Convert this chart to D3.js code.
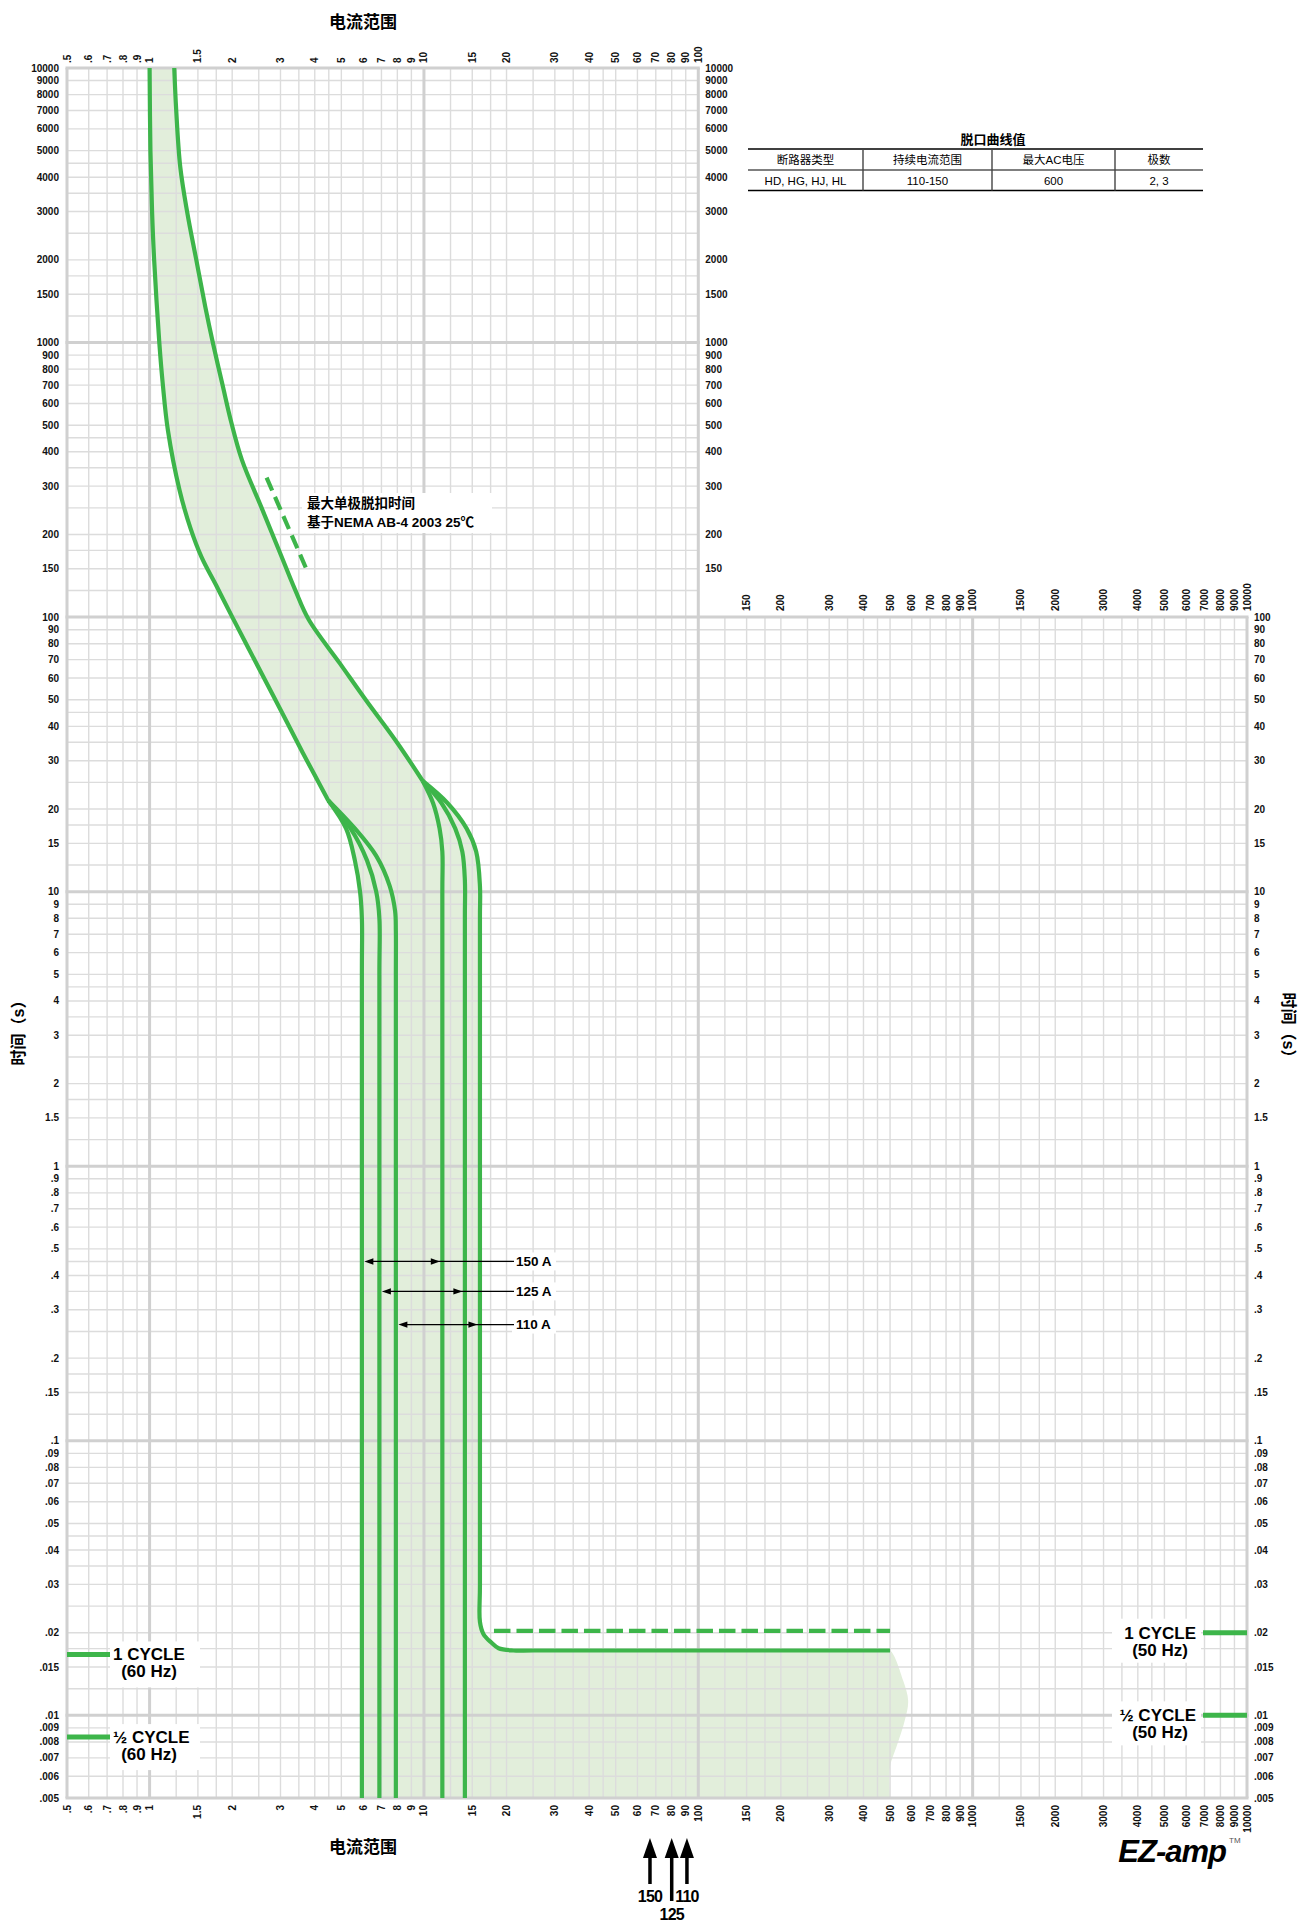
<!DOCTYPE html>
<meta charset="utf-8">
<script src="https://d3js.org/d3.v7.min.js"></script>
<style>
  body { margin: 0; background: #fff; }
  text { font-family: "Liberation Sans", Arial, "Noto Sans CJK SC", sans-serif; }
</style>
<div id="my_dataviz"></div>
<script>

// ---- data ----
// tick label mantissas per decade and grid mantissas per decade
const labelMantissas = [1, 1.5, 2, 3, 4, 5, 6, 7, 8, 9];
const gridMantissas = [1, 1.25, 1.5, 1.75, 2, 2.5, 3, 3.5, 4, 4.5, 5, 6, 7, 8, 9];
const decades = [0.001, 0.01, 0.1, 1, 10, 100, 1000, 10000];
const majorX = [1, 10, 100, 1000];
const majorY = [1000, 100, 10, 1, 0.1, 0.01];

// band boundaries [multiple of In, seconds]
const minCurve = [[1.0,10000],[1.007,5000],[1.021,3000],[1.039,2000],[1.085,1000],[1.118,700],[1.166,480],
  [1.286,290],[1.411,210],[1.548,165],[1.752,130],[2.002,100],[2.612,60],[3.034,45],[3.62,32],[4.48,21.5]];
const maxCurve = [[1.23,10000],[1.25,7050],[1.293,4380],[1.37,3000],[1.48,2000],[1.596,1350],[1.70,1000],
  [1.845,700],[1.99,507],[2.17,374],[2.565,249],[2.985,172],[3.39,126],[3.8,98],[4.93,68],[6.14,49.9],
  [8.0,34.8],[9.9,25.3]];

// instantaneous branches for 150 A, 125 A, 110 A
const minBranch150 = [[4.48,21.5],[5.2,17],[5.6,13],[5.85,10],[5.94,8],[5.94,5],[5.94,0.005]];
const minBranch125 = [[4.48,21.5],[5.4,17],[6.2,13],[6.7,10],[6.88,8],[6.88,5],[6.88,0.005]];
const minBranch110 = [[4.48,21.5],[5.6,17],[6.7,13.5],[7.5,10.5],[7.85,8.5],[7.9,7.2],[7.9,5],[7.9,0.005]];
const maxBranch150 = [[9.9,25.3],[10.8,21],[11.4,17],[11.67,14],[11.67,10],[11.67,0.005]];
const maxBranch125 = [[9.9,25.3],[11.6,21],[13.0,17],[13.8,14],[14.1,11],[14.1,8],[14.1,0.005]];
const maxBranch110 = [[9.9,25.3],[12.2,21],[14.3,17],[15.5,14],[16.0,10.5],[16.0,8],[16.0,0.03],
  [16.0,0.0219],[16.47,0.0198],[17.56,0.01845],[18.71,0.01756],[21.2,0.01723],[25,0.01723],
  [470,0.01723],[500,0.01723]];
const bandBulge = [[558,0.0134],[582,0.0113],[566,0.0096],[528,0.0077],[500,0.0065],[500,0.005]];

const dashedHoriz = [[18,0.0203],[500,0.0203]];
const nemaDash = [[2.67,322],[3.75,147.7]];

// ratings and their pickup markers
const ratings = [150, 125, 110];
const pickupLow = [5.94, 6.88, 7.9];
const pickupHigh = [11.67, 14.1, 16.0];
const pickupTimes = [0.45, 0.35, 0.265];

// cycle markers
const cycles60 = [1/60, 1/120];
const cycles50 = [1/50, 1/100];
const cycleNames = ["1 CYCLE", "\u00BD CYCLE"];

// table
const tableTitle = "脱口曲线值";
const tableHeaders = ["断路器类型", "持续电流范围", "最大AC电压", "极数"];
const tableRow = ["HD, HG, HJ, HL", "110-150", "600", "2, 3"];

const green = "#3db54a";
const fillGreen = "#e2eedb";

// ---- layout ----
const margin = {top: 68, right: 57, bottom: 127, left: 67},
    W = 1304, H = 1925,
    width = W - margin.left - margin.right,
    height = H - margin.top - margin.bottom;

const svg = d3.select("#my_dataviz")
  .append("svg")
  .attr("width", W)
  .attr("height", H);

const x = d3.scaleLog().domain([0.5, 10000]).range([margin.left, margin.left + width]);
const y = d3.scaleLog().domain([10000, 0.005]).range([margin.top, margin.top + height]);

const round = v => +v.toPrecision(6);
const fmt = v => v < 1 ? String(v).replace(/^0/, "") : String(v);

let gridVals = [], labelVals = [];
decades.forEach(d => {
  gridMantissas.forEach(m => gridVals.push(round(m * d)));
  labelMantissas.forEach(m => labelVals.push(round(m * d)));
});
const xGrid = gridVals.filter(v => v >= 0.5 && v <= 10000);
const yGrid = gridVals.filter(v => v >= 0.005 && v <= 10000);
const xLabels = labelVals.filter(v => v >= 0.5 && v <= 10000);
const yLabels = labelVals.filter(v => v >= 0.005 && v <= 10000);

// ---- band fill ----
const line = d3.line()
  .x(d => x(d[0]))
  .y(d => y(d[1]))
  .curve(d3.curveCatmullRom.alpha(0.5));

const rightEdge = maxCurve.concat(maxBranch110.slice(1), bandBulge);
const leftEdge = minCurve.concat(minBranch150.slice(1)).reverse();
svg.append("path")
  .attr("d", line(rightEdge) + line(leftEdge).replace(/^M/, "L") + "Z")
  .attr("fill", fillGreen);

// ---- grid ----
const vTop = v => v <= 100 ? 10000 : 100;
const hRight = t => t > 100 ? 100 : 10000;

const grid = svg.append("g");
grid.selectAll("line.vx")
  .data(xGrid)
  .join("line")
  .attr("x1", d => x(d)).attr("x2", d => x(d))
  .attr("y1", d => y(vTop(d))).attr("y2", y(0.005))
  .attr("stroke", "#dcdcdc").attr("stroke-width", 1.4);
grid.selectAll("line.hy")
  .data(yGrid)
  .join("line")
  .attr("y1", d => y(d)).attr("y2", d => y(d))
  .attr("x1", x(0.5)).attr("x2", d => x(hRight(d)))
  .attr("stroke", "#dcdcdc").attr("stroke-width", 1.4);

const major = svg.append("g").attr("stroke", "#d0d0d0").attr("stroke-width", 3);
major.selectAll("line.mx")
  .data(majorX.concat([0.5]))
  .join("line")
  .attr("x1", d => x(d)).attr("x2", d => x(d))
  .attr("y1", d => y(vTop(d))).attr("y2", y(0.005));
major.append("line").attr("x1", x(10000)).attr("x2", x(10000)).attr("y1", y(100)).attr("y2", y(0.005));
major.selectAll("line.my")
  .data(majorY.concat([10000, 0.005]))
  .join("line")
  .attr("y1", d => y(d)).attr("y2", d => y(d))
  .attr("x1", x(0.5) - 1.5).attr("x2", d => x(hRight(d)) + 1.5);

// ---- tick labels ----
const lab = svg.append("g")
  .style("font-size", "10px").style("font-weight", "bold").attr("fill", "#111");

lab.selectAll("text.yl")
  .data(yLabels)
  .join("text")
  .attr("x", margin.left - 8).attr("y", d => y(d)).attr("dy", "0.35em")
  .attr("text-anchor", "end").text(fmt);

lab.selectAll("text.yr1")
  .data(yLabels.filter(v => v >= 150))
  .join("text")
  .attr("x", x(100) + 7).attr("y", d => y(d)).attr("dy", "0.35em")
  .text(fmt);

lab.selectAll("text.yr2")
  .data(yLabels.filter(v => v <= 100))
  .join("text")
  .attr("x", x(10000) + 7).attr("y", d => y(d)).attr("dy", "0.35em")
  .text(fmt);

lab.selectAll("text.xt")
  .data(xLabels.filter(v => v <= 100))
  .join("text")
  .attr("transform", d => `translate(${x(d)},${y(10000) - 5}) rotate(-90)`)
  .attr("dy", "0.35em").text(fmt);

lab.selectAll("text.xm")
  .data(xLabels.filter(v => v > 100))
  .join("text")
  .attr("transform", d => `translate(${x(d)},${y(100) - 6}) rotate(-90)`)
  .attr("dy", "0.35em").text(fmt);

lab.selectAll("text.xb")
  .data(xLabels)
  .join("text")
  .attr("transform", d => `translate(${x(d)},${y(0.005) + 7}) rotate(-90)`)
  .attr("dy", "0.35em").attr("text-anchor", "end").text(fmt);

// ---- axis titles ----
svg.append("text").attr("x", 363).attr("y", 28).attr("text-anchor", "middle")
  .style("font-size", "17px").style("font-weight", "bold").text("电流范围");
svg.append("text").attr("x", 363).attr("y", 1853).attr("text-anchor", "middle")
  .style("font-size", "17px").style("font-weight", "bold").text("电流范围");
svg.append("text").attr("transform", "translate(18,1029) rotate(-90)")
  .attr("text-anchor", "middle").attr("dy", "0.35em")
  .style("font-size", "16px").style("font-weight", "bold").text("时间（s）");
svg.append("text").attr("transform", "translate(1289,1029) rotate(90)")
  .attr("text-anchor", "middle").attr("dy", "0.35em")
  .style("font-size", "16px").style("font-weight", "bold").text("时间（s）");

// ---- curves ----
const curves = [minCurve, maxCurve, minBranch150, minBranch125, minBranch110,
  maxBranch150, maxBranch125, maxBranch110];
svg.selectAll("path.curve")
  .data(curves)
  .join("path")
  .attr("d", line)
  .attr("fill", "none").attr("stroke", green).attr("stroke-width", 4.2);

svg.append("path").attr("d", line(dashedHoriz))
  .attr("fill", "none").attr("stroke", green).attr("stroke-width", 4.2)
  .attr("stroke-dasharray", "16.5,6");
svg.append("path").attr("d", line(nemaDash))
  .attr("fill", "none").attr("stroke", green).attr("stroke-width", 4.2)
  .attr("stroke-dasharray", "14,7");

// NEMA label
svg.append("rect").attr("x", 302).attr("y", 493).attr("width", 190).attr("height", 40).attr("fill", "#fff");
svg.append("text").attr("x", 307).attr("y", 508)
  .style("font-size", "13.5px").style("font-weight", "bold").text("最大单极脱扣时间");
svg.append("text").attr("x", 307).attr("y", 527)
  .style("font-size", "13.5px").style("font-weight", "bold").text("基于NEMA AB-4 2003 25℃");

// ---- pickup arrows ----
const pk = svg.append("g");
ratings.forEach((r, i) => {
  const yy = y(pickupTimes[i]);
  const x0 = x(pickupLow[i]) + 2.5, x1 = x(pickupHigh[i]) - 2.5;
  pk.append("rect").attr("x", 512).attr("y", yy - 9).attr("width", 44).attr("height", 18).attr("fill", "#fff");
  pk.append("line").attr("x1", x0 + 4).attr("x2", 514).attr("y1", yy).attr("y2", yy)
    .attr("stroke", "#000").attr("stroke-width", 1.3);
  pk.append("path").attr("d", `M${x0},${yy}l9,-3.2v6.4z`).attr("fill", "#000");
  pk.append("path").attr("d", `M${x1},${yy}l-9,-3.2v6.4z`).attr("fill", "#000");
  pk.append("text").attr("x", 516).attr("y", yy + 4.5)
    .style("font-size", "13.5px").style("font-weight", "bold").text(r + " A");
});

// ---- cycle markers ----
const cy = svg.append("g").style("font-weight", "bold").style("font-size", "17px");
cycles60.forEach((t, i) => {
  const yy = y(t);
  cy.append("rect").attr("x", 110).attr("y", yy - 13).attr("width", 90).attr("height", 46).attr("fill", "#fff");
  cy.append("line").attr("x1", x(0.5)).attr("x2", 110).attr("y1", yy).attr("y2", yy)
    .attr("stroke", green).attr("stroke-width", 5);
  cy.append("text").attr("x", 113).attr("y", yy + 6).text(cycleNames[i]);
  cy.append("text").attr("x", 149).attr("y", yy + 23).attr("text-anchor", "middle").text("(60 Hz)");
});
cycles50.forEach((t, i) => {
  const yy = y(t);
  cy.append("rect").attr("x", 1112).attr("y", yy - 14).attr("width", 89).attr("height", 44).attr("fill", "#fff");
  cy.append("line").attr("x1", 1203).attr("x2", x(10000)).attr("y1", yy).attr("y2", yy)
    .attr("stroke", green).attr("stroke-width", 5);
  cy.append("text").attr("x", 1196).attr("y", yy + 6).attr("text-anchor", "end").text(cycleNames[i]);
  cy.append("text").attr("x", 1160).attr("y", yy + 23).attr("text-anchor", "middle").text("(50 Hz)");
});

// ---- rating arrows below the axis ----
const ar = svg.append("g");
ratings.forEach((r, i) => {
  const xx = x(10000 / r);
  const tip = 1838, bottom = i === 1 ? 1901 : 1884;
  ar.append("path").attr("d", `M${xx},${tip}l7,20h-14z`).attr("fill", "#000");
  ar.append("line").attr("x1", xx).attr("x2", xx).attr("y1", tip + 18).attr("y2", bottom)
    .attr("stroke", "#000").attr("stroke-width", 3.5);
  ar.append("text").attr("x", xx).attr("y", i === 1 ? 1920 : 1902).attr("text-anchor", "middle")
    .style("font-size", "16px").style("font-weight", "bold").style("letter-spacing", "-0.8px")
    .text(r);
});

// ---- table ----
const cols = [748, 863, 992, 1115, 1203];
const tb = svg.append("g");
tb.append("text").attr("x", 993).attr("y", 144).attr("text-anchor", "middle")
  .style("font-size", "13px").style("font-weight", "bold").text(tableTitle);
tb.append("line").attr("x1", cols[0]).attr("x2", cols[4]).attr("y1", 149).attr("y2", 149).attr("stroke", "#000").attr("stroke-width", 1.6);
tb.append("line").attr("x1", cols[0]).attr("x2", cols[4]).attr("y1", 170).attr("y2", 170).attr("stroke", "#000").attr("stroke-width", 1);
tb.append("line").attr("x1", cols[0]).attr("x2", cols[4]).attr("y1", 190.5).attr("y2", 190.5).attr("stroke", "#000").attr("stroke-width", 1.4);
cols.slice(1, 4).forEach(c => {
  tb.append("line").attr("x1", c).attr("x2", c).attr("y1", 149).attr("y2", 190.5).attr("stroke", "#444").attr("stroke-width", 1.4);
});
tableHeaders.forEach((h, i) => {
  tb.append("text").attr("x", (cols[i] + cols[i + 1]) / 2).attr("y", 164).attr("text-anchor", "middle")
    .style("font-size", "11.5px").text(h);
  tb.append("text").attr("x", (cols[i] + cols[i + 1]) / 2).attr("y", 184.5).attr("text-anchor", "middle")
    .style("font-size", "11.5px").text(tableRow[i]);
});

// ---- logo ----
svg.append("text").attr("x", 1226).attr("y", 1862).attr("text-anchor", "end")
  .style("font-size", "31px").style("font-weight", "900").style("font-style", "italic")
  .style("letter-spacing", "-1px").text("EZ-amp");
svg.append("text").attr("x", 1229).attr("y", 1843)
  .style("font-size", "8px").attr("fill", "#555").text("TM");

</script>
